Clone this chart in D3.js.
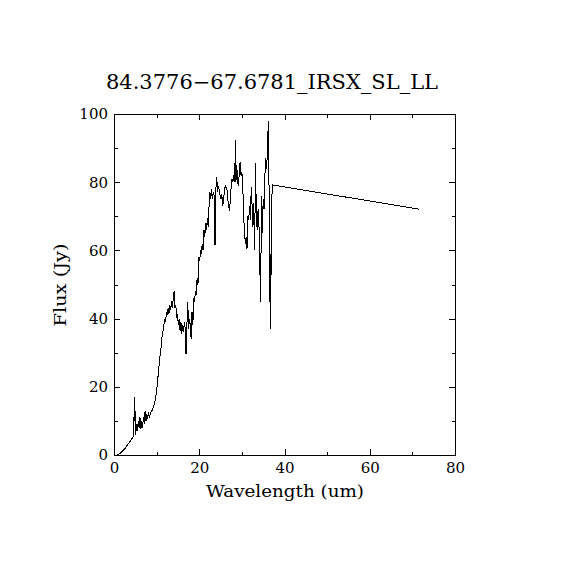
<!DOCTYPE html>
<html><head><meta charset="utf-8">
<script src="https://cdn.jsdelivr.net/npm/d3@7"></script>
<style>body{margin:0;background:#fff}svg{display:block}text{font-family:"DejaVu Serif","Liberation Serif",serif;fill:#000}</style>
</head><body><svg id="c" width="570" height="570"></svg>
<script>
const title = "84.3776\u221267.6781_IRSX_SL_LL";
const xLabel = "Wavelength (um)";
const yLabel = "Flux (Jy)";
const xTicks = [0, 20, 40, 60, 80];
const yTicks = [0, 20, 40, 60, 80, 100];
const xMinor = [10, 30, 50, 70];
const yMinor = [10, 30, 50, 70, 90];
const wavelength = [0.7,1.5,2.5,3.5,4.5,4.6,4.8,4.9,5.0,5.1,5.3,5.5,5.7,5.9,6.1,6.3,6.5,6.7,6.9,7.1,7.3,7.5,7.7,7.9,8.1,8.3,8.6,8.9,9.2,9.5,9.8,10.1,10.4,10.7,11.0,11.3,11.6,11.9,12.1,12.3,12.5,12.7,12.9,13.1,13.3,13.5,13.7,13.9,14.1,14.3,14.5,14.7,14.9,15.1,15.3,15.5,15.7,15.9,16.1,16.3,16.5,16.7,16.9,17.1,17.3,17.5,17.7,17.9,18.1,18.3,18.5,18.7,18.9,19.1,19.3,19.5,19.7,19.9,20.1,20.3,20.5,20.7,20.9,21.1,21.3,21.5,21.7,21.9,22.1,22.3,22.5,22.7,22.9,23.1,23.3,23.5,23.7,23.9,24.1,24.3,24.5,24.7,24.9,25.1,25.3,25.5,25.7,25.9,26.1,26.3,26.5,26.7,26.9,27.1,27.3,27.5,27.7,27.9,28.1,28.3,28.5,28.6,28.8,29.0,29.2,29.4,29.6,29.8,30.0,30.2,30.4,30.6,30.8,31.0,31.2,31.4,31.6,31.8,32.0,32.2,32.4,32.6,32.8,33.0,33.2,33.4,33.6,33.8,34.0,34.2,34.4,34.6,34.8,35.0,35.2,35.4,35.6,35.8,36.0,36.2,36.3,36.4,36.5,36.6,36.7,36.9,37.1,71.6];
const flux = [0,0.5,1.8,3.5,5.3,5.5,17,10,13,6,9,7,10,8,11,7.5,10,8,11,9,13,10,12,10.5,12.5,11,12.5,13,14,15,17,20,24,28,31,35,37,40,39,42,41,43,41.5,44,42.5,45,43,46,48,43,44,40.5,41,38,40,36.5,39,35.5,38,36,39,37,29.5,38,45,37,40,38,34,42,38,46,45,48,47,52,50,58,57,60,59,62,60,66,64,68,66,69.5,67,73,77,75,78,75,77,76,61.5,78,81.5,77,79,77.5,76,75,76.5,73,75,77,79,78.5,78,75,73,71.5,75,79,81,80,82,80,92.5,80,85,80,79,83,86,82,83,80,70,66,62,64,60.5,70,69,73,69,78.5,73,67,74,60,85.5,70,66,72,68,56,45,76,65,75,72,82,87,84,89,98,90,74,45,59,37,60,79.2,72.1];

const svg = d3.select("#c");
const L = 114, R = 455, T = 114, B = 455;
const x = d3.scaleLinear().domain([0, 80]).range([L, R]);
const y = d3.scaleLinear().domain([0, 100]).range([B, T]);

svg.append("rect").attr("x", L).attr("y", T).attr("width", R - L).attr("height", B - T)
  .attr("fill", "none").attr("stroke", "#000").attr("stroke-width", 1).attr("shape-rendering", "crispEdges");

const maj = 6, mnr = 3.5;
function axis(gen, tr, vals, size, labels) {
  const g = svg.append("g").attr("transform", tr)
    .call(gen.tickValues(vals).tickSizeInner(-size).tickSizeOuter(0).tickFormat(labels ? d3.format("d") : ""));
  g.select(".domain").remove();
  g.selectAll("line").attr("stroke", "#000").attr("shape-rendering", "crispEdges");
  g.selectAll("text").attr("font-size", 15).attr("font-family", "DejaVu Serif").attr("fill", "#000");
  return g;
}
const gb = axis(d3.axisBottom(x), `translate(0,${B})`, xTicks, maj, true);
gb.selectAll("text").attr("dy", "0.71em").attr("y", 7);
axis(d3.axisBottom(x), `translate(0,${B})`, xMinor, mnr, false);
axis(d3.axisTop(x), `translate(0,${T})`, xTicks, -maj, false).selectAll("line").attr("y2", maj);
axis(d3.axisTop(x), `translate(0,${T})`, xMinor, -mnr, false).selectAll("line").attr("y2", mnr);
const gl = axis(d3.axisLeft(y), `translate(${L},0)`, yTicks, maj, true);
gl.selectAll("text").attr("x", -6);
axis(d3.axisLeft(y), `translate(${L},0)`, yMinor, mnr, false);
axis(d3.axisRight(y), `translate(${R},0)`, yTicks, -maj, false).selectAll("line").attr("x2", -maj);
axis(d3.axisRight(y), `translate(${R},0)`, yMinor, -mnr, false).selectAll("line").attr("x2", -mnr);

const pts = wavelength.map((w, i) => [w, flux[i]]);
svg.append("path").datum(pts)
  .attr("d", d3.line().x(d => x(d[0])).y(d => y(d[1])))
  .attr("fill", "none").attr("stroke", "#000").attr("stroke-width", 1).attr("shape-rendering", "crispEdges");

svg.append("text").attr("x", 272).attr("y", 89).attr("text-anchor", "middle")
  .attr("font-size", 20).attr("textLength", 332).attr("lengthAdjust", "spacingAndGlyphs").text(title);
svg.append("text").attr("x", 285).attr("y", 497).attr("text-anchor", "middle")
  .attr("font-size", 17).attr("textLength", 158).attr("lengthAdjust", "spacingAndGlyphs").text(xLabel);
svg.append("text").attr("transform", "translate(66,285) rotate(-90)").attr("text-anchor", "middle")
  .attr("font-size", 17).attr("textLength", 83).attr("lengthAdjust", "spacingAndGlyphs").text(yLabel);
</script></body></html>
